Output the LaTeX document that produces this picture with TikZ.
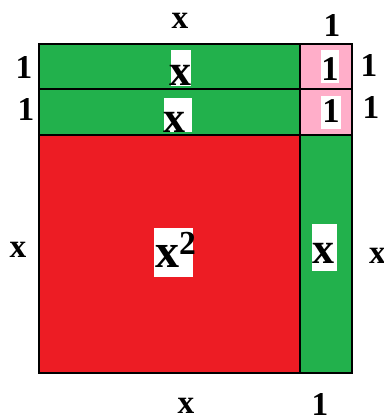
\documentclass[tikz,border=0pt]{standalone}
\usepackage{fontspec}
\setmainfont{Liberation Serif}
\usepackage{xcolor}
\definecolor{tilegreen}{HTML}{22B14C}
\definecolor{tilered}{HTML}{ED1C24}
\definecolor{tilepink}{HTML}{FFAEC9}

\begin{document}
\begin{tikzpicture}[x=0.75pt, y=-0.75pt, line width=1.5pt,
  side/.style={font=\fontsize{25}{25}\selectfont\bfseries, inner sep=0pt, anchor=base},
  tag/.style={font=\fontsize{33}{33}\selectfont\bfseries, inner sep=0pt, anchor=base},
  unittag/.style={tag, font=\fontsize{26}{26}\selectfont\bfseries}]
\useasboundingbox (0,0) rectangle (383,415);

\draw[fill=tilegreen] (39,44) rectangle (300,89);
\draw[fill=tilegreen] (39,89) rectangle (300,135);
\draw[fill=tilepink] (300,44) rectangle (352,89);
\draw[fill=tilepink] (300,89) rectangle (352,135);
\draw[fill=tilered] (39,135) rectangle (300,373);
\draw[fill=tilegreen] (300,135) rectangle (352,373);

\fill[white] (171,50) rectangle (191,86);
\fill[white] (164,98) rectangle (192,132);
\fill[white] (321,50) rectangle (339,83);
\fill[white] (321,96) rectangle (341,129);
\fill[white] (154,228) rectangle (193,277);
\fill[white] (312,224) rectangle (337,271);

\node[tag] (rowa) at (180,85) {x};
\node[tag] (rowb) at (174,132) {x};
\node[unittag] (unita) at (330,80) {1};
\node[unittag] (unitb) at (331,122) {1};
\node[tag, anchor=base west, font=\fontsize{36}{36}\selectfont\bfseries] (square) at (154,267) {x\textsuperscript{2}};
\node[tag] (col) at (323,263) {x};

\node[side] (topx) at (180,28) {x};
\node[side] (top1) at (332,36) {1};
\node[side] (left1a) at (24,78) {1};
\node[side] (left1b) at (26,120) {1};
\node[side] (right1a) at (369,76) {1};
\node[side] (right1b) at (371,118) {1};
\node[side] (leftx) at (18,257) {x};
\node[side, anchor=base west] (rightx) at (368,263) {x};
\node[side] (botx) at (186,413) {x};
\node[side] (bot1) at (320,415) {1};
\end{tikzpicture}
\end{document}
